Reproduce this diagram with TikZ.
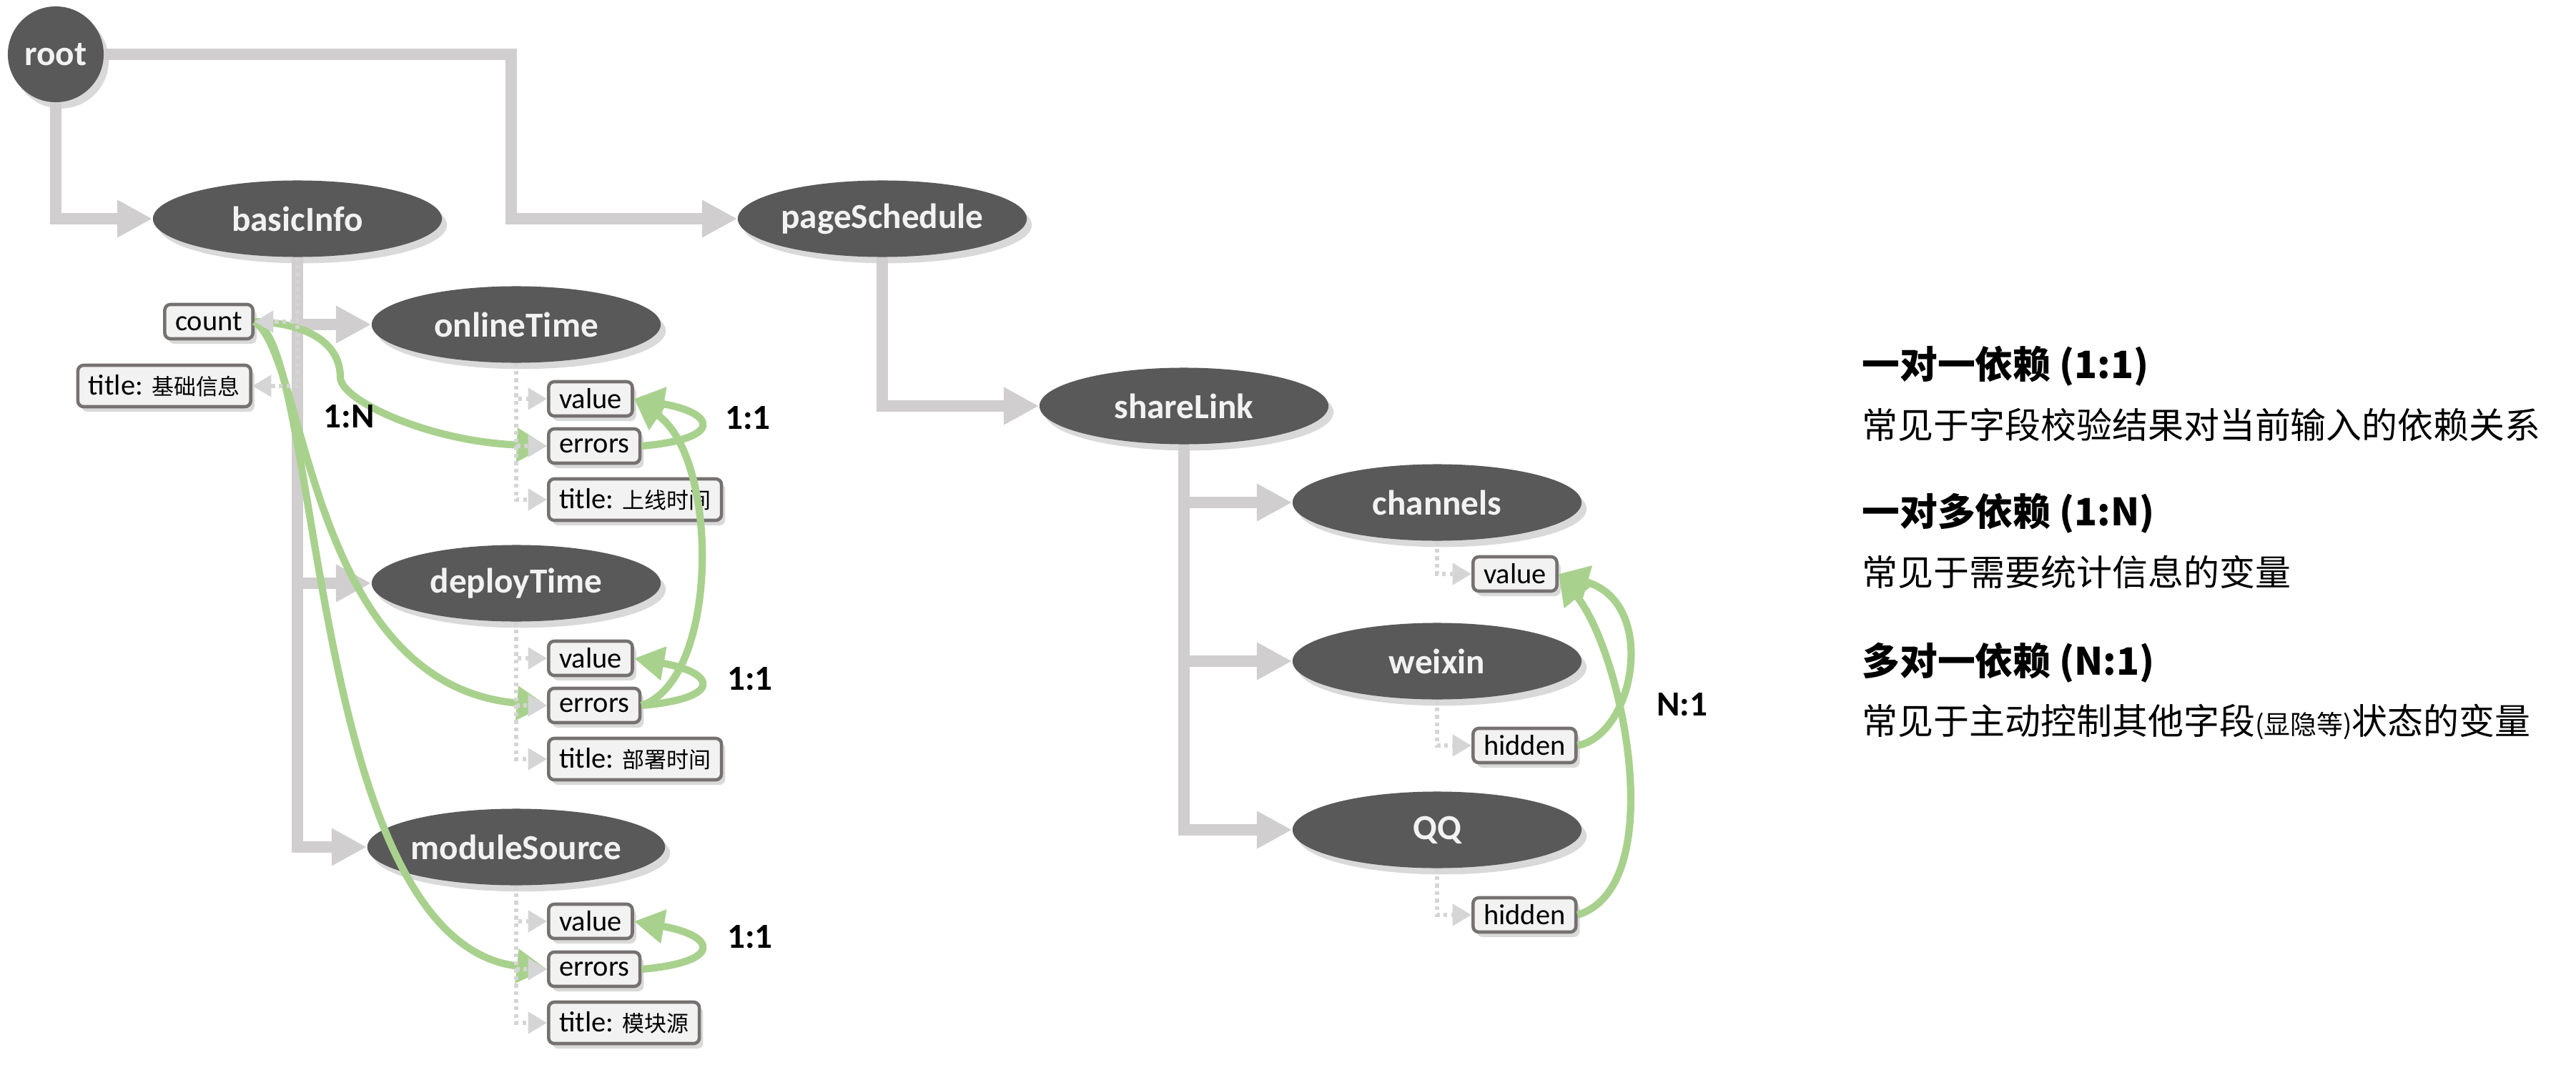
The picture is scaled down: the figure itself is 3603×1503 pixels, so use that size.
\documentclass[tikz,border=0pt]{standalone}
\usepackage{fontspec}
\setmainfont{Carlito}
\newfontfamily\cjk{Noto Sans CJK SC}
\usetikzlibrary{arrows.meta}
\usetikzlibrary{shapes}
\usetikzlibrary{shadows}

\definecolor{nodegray}{HTML}{595959}
\definecolor{linkgray}{HTML}{D0CECE}
\definecolor{dotgray}{HTML}{D5D5D5}
\definecolor{boxline}{HTML}{767171}
\definecolor{boxfill}{HTML}{F2F2F2}
\definecolor{depgreen}{HTML}{A9D18E}

\newcommand{\zh}[1]{{\cjk\fontsize{8.8pt}{10pt}\selectfont #1}}

\tikzset{
  field/.style={ellipse, fill=nodegray, text=boxfill, inner sep=0pt,
    minimum width=4.04cm, minimum height=1.07cm,
    font=\fontsize{14pt}{16pt}\selectfont\bfseries,
    drop shadow={opacity=0.3, shadow xshift=2pt, shadow yshift=-2.5pt}},
  prop/.style={rectangle, rounded corners=2.3pt, draw=boxline, line width=1.3pt,
    fill=boxfill, inner xsep=4.2pt, inner ysep=1pt, minimum height=0.48cm,
    font=\fontsize{11.5pt}{13pt}\selectfont,
    drop shadow={opacity=0.3, shadow xshift=1.5pt, shadow yshift=-2pt}},
  proptitle/.style={prop, minimum height=0.58cm},
  link/.style={linkgray, line width=4.5pt, -{Triangle[length=14pt,width=14pt]}},
  sub/.style={dotgray, line width=1.5pt, dash pattern=on 1.5pt off 1.5pt,
    -{Triangle[length=7.5pt,width=8.5pt]}},
  dep/.style={depgreen, line width=2.9pt, -{Triangle[length=12pt,width=13pt]}},
  ratio/.style={font=\fontsize{14pt}{16pt}\selectfont\bfseries},
  legend/.style={anchor=west, inner sep=0pt, font={\cjk\fontsize{14.2pt}{17pt}\selectfont}},
  legendhead/.style={legend, font={\cjk\bfseries\fontsize{15pt}{18pt}\selectfont}}
}

\begin{document}
\begin{tikzpicture}[x=0.01cm, y=-0.01cm]
  \useasboundingbox (0,0) rectangle (3603,1503);

  % fields
  \node[field, minimum width=1.34cm, minimum height=1.34cm] (root) at (78,76) {root};
  \node[field] (basic) at (416,306) {basicInfo};
  \node[field] (page) at (1234,306) {pageSchedule};
  \node[field] (online) at (722,454) {onlineTime};
  \node[field] (deploy) at (722,816) {deployTime};
  \node[field] (module) at (722,1185) {moduleSource};
  \node[field] (share) at (1656,568) {shareLink};
  \node[field] (chan) at (2010,703) {channels};
  \node[field] (weixin) at (2010,925) {weixin};
  \node[field] (qq) at (2010,1161) {QQ};

  % properties
  \node[prop, anchor=east] (count) at (356,450) {count};
  \node[proptitle, anchor=east] (btitle) at (353,540) {title: \zh{基础信息}};
  \node[prop, anchor=west] (onval) at (765,558) {value};
  \node[prop, anchor=west] (onerr) at (765,624) {errors};
  \node[proptitle, anchor=west] (ontitle) at (765,699) {title: \zh{上线时间}};
  \node[prop, anchor=west] (dpval) at (765,921) {value};
  \node[prop, anchor=west] (dperr) at (765,987) {errors};
  \node[proptitle, anchor=west] (dptitle) at (765,1062) {title: \zh{部署时间}};
  \node[prop, anchor=west] (mdval) at (765,1289) {value};
  \node[prop, anchor=west] (mderr) at (765,1356) {errors};
  \node[proptitle, anchor=west] (mdtitle) at (765,1431) {title: \zh{模块源}};
  \node[prop, anchor=west] (chval) at (2058,803) {value};
  \node[prop, anchor=west] (wxhid) at (2058,1043) {hidden};
  \node[prop, anchor=west] (qqhid) at (2058,1280) {hidden};

  % tree links
  \coordinate (rootturn) at (715,76);
  \draw[link] (root.south) |- (basic.west);
  \draw[link] (root.east) -- (rootturn) |- (page.west);
  \draw[link] (basic.south) |- (module.west);
  \draw[link] (basic.south) |- (deploy.west);
  \draw[link] (basic.south) |- (online.west);
  \draw[link] (page.south) |- (share.west);
  \draw[link] (share.south) |- (qq.west);
  \draw[link] (share.south) |- (weixin.west);
  \draw[link] (share.south) |- (chan.west);

  % dependencies
  \coordinate (countbend) at (476,528);
  \draw[dep] (count.east) .. controls +(64,1) and +(0,-53) .. (countbend)
    .. controls +(0,32) and +(-165,-6) .. (onerr.west);
  \draw[dep] (count.east) .. controls +(74,50) and +(-335,-27) .. (dperr.west);
  \draw[dep] (count.east) .. controls +(94,30) and +(-335,-36) .. (mderr.west);
  \draw[dep] (onerr.east) .. controls +(115,-10) and +(115,20) .. (onval.east);
  \draw[dep] (dperr.east) .. controls +(110,-37) and +(119,82) .. (onval.east);
  \draw[dep] (dperr.east) .. controls +(115,-10) and +(115,20) .. (dpval.east);
  \draw[dep] (mderr.east) .. controls +(115,-10) and +(115,20) .. (mdval.east);
  \draw[dep] (wxhid.east) .. controls +(80,-15) and +(140,40) .. (chval.east);
  \draw[dep] (qqhid.east) .. controls +(130,-40) and +(90,110) .. (chval.east);

  % property links
  \draw[sub] (basic.south) |- (count.east);
  \draw[sub] (basic.south) |- (btitle.east);
  \draw[sub] (online.south) |- (onval.west);
  \draw[sub] (online.south) |- (onerr.west);
  \draw[sub] (online.south) |- (ontitle.west);
  \draw[sub] (deploy.south) |- (dpval.west);
  \draw[sub] (deploy.south) |- (dperr.west);
  \draw[sub] (deploy.south) |- (dptitle.west);
  \draw[sub] (module.south) |- (mdval.west);
  \draw[sub] (module.south) |- (mderr.west);
  \draw[sub] (module.south) |- (mdtitle.west);
  \draw[sub] (chan.south) |- (chval.west);
  \draw[sub] (weixin.south) |- (wxhid.west);
  \draw[sub] (qq.south) |- (qqhid.west);

  % ratios
  \node[ratio] (onen) at (488,583) {1:N};
  \node[ratio] (oneone) at (1046,585) {1:1};
  \node[ratio] (oneonedp) at (1049,950) {1:1};
  \node[ratio] (oneonemd) at (1049,1311) {1:1};
  \node[ratio] (none) at (2353,986) {N:1};

  % legend
  \node[legendhead] (headone) at (2604,512) {一对一依赖 (1:1)};
  \node[legend] (textone) at (2604,594) {常见于字段校验结果对当前输入的依赖关系};
  \node[legendhead] (headmany) at (2604,718) {一对多依赖 (1:N)};
  \node[legend] (textmany) at (2604,800) {常见于需要统计信息的变量};
  \node[legendhead] (headn) at (2604,927) {多对一依赖 (N:1)};
  \node[legend] (textn) at (2604,1010) {常见于主动控制其他字段{\fontsize{10.5pt}{12pt}\selectfont(显隐等)}状态的变量};
\end{tikzpicture}
\end{document}
